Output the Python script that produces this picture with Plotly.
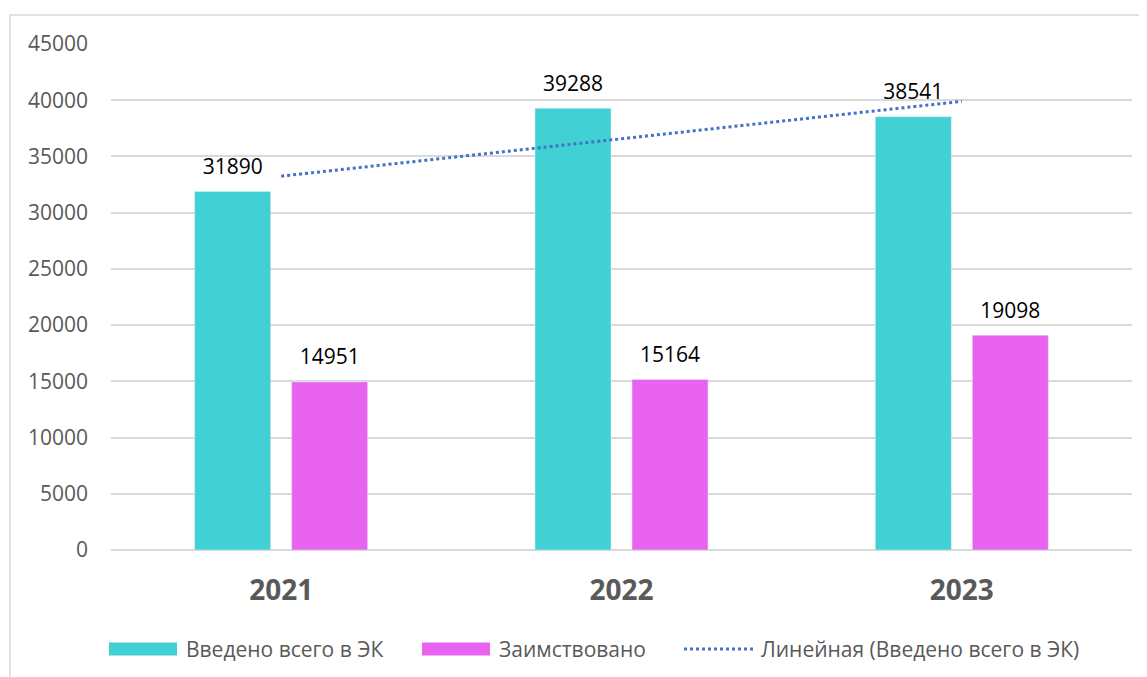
import numpy as np
import plotly.graph_objects as go

years = ["2021", "2022", "2023"]
vvedeno = [31890, 39288, 38541]
zaimstv = [14951, 15164, 19098]
y_ticks = [0, 5000, 10000, 15000, 20000, 25000, 30000, 35000, 40000, 45000]
names = ["Введено всего в ЭК", "Заимствовано", "Линейная (Введено всего в ЭК)"]

# linear trend of first series (Excel-style linear trendline)
xi = np.arange(len(years))
k, b = np.polyfit(xi, vvedeno, 1)
trend = (k * xi + b).tolist()

CYAN = "#41D0D4"
MAGENTA = "#E863F0"
BLUE = "#4472C4"
GRAY = "#595959"
FONT = "Open Sans"

W, H = 1139, 669
ML, MR, MT, MB = 103, 15, 36, 127
PW, PH = W - ML - MR, H - MT - MB


def px(x):  # figure pixel -> paper x
    return (x - ML) / PW


def py(y):  # figure pixel -> paper y
    return (H - MB - y) / PH


def label(v):
    return "<span style='font-size:21px'>%d</span><br>\u00a0" % v


fig = go.Figure()
fig.add_trace(go.Bar(
    x=years, y=vvedeno, name=names[0], marker_color=CYAN,
    text=[label(v) for v in vvedeno], textposition="outside", constraintext="none",
    textfont=dict(size=9, color="#000000", family=FONT), cliponaxis=False,
))
fig.add_trace(go.Bar(
    x=years, y=zaimstv, name=names[1], marker_color=MAGENTA,
    text=[label(v) for v in zaimstv], textposition="outside", constraintext="none",
    textfont=dict(size=9, color="#000000", family=FONT), cliponaxis=False,
))
fig.add_trace(go.Scatter(
    x=years, y=trend, mode="lines", name=names[2],
    line=dict(color=BLUE, width=3, dash="dot"), hoverinfo="skip",
))

# custom legend (wide swatches like the original)
ly = 641
shapes = [
    dict(type="rect", xref="paper", yref="paper", x0=px(101), x1=px(169),
         y0=py(ly - 6.5), y1=py(ly + 6.5), fillcolor=CYAN, line=dict(width=0)),
    dict(type="rect", xref="paper", yref="paper", x0=px(414), x1=px(482),
         y0=py(ly - 6.5), y1=py(ly + 6.5), fillcolor=MAGENTA, line=dict(width=0)),
    dict(type="line", xref="paper", yref="paper", x0=px(676), x1=px(745),
         y0=py(ly), y1=py(ly), line=dict(color=BLUE, width=3, dash="dot")),
    dict(type="rect", xref="paper", yref="paper", x0=px(2), x1=px(1200),
         y0=py(800), y1=py(7), line=dict(color="#D9D9D9", width=1.5),
         fillcolor="rgba(0,0,0,0)", layer="below"),
]
annotations = [
    dict(xref="paper", yref="paper", x=px(tx), y=py(ly), text=t, showarrow=False,
         xanchor="left", yanchor="middle", font=dict(size=21, color=GRAY, family=FONT))
    for tx, t in zip([176, 489, 751], names)
]

fig.update_layout(
    width=W, height=H,
    margin=dict(l=ML, r=MR, t=MT, b=MB),
    paper_bgcolor="white", plot_bgcolor="white",
    barmode="group", bargap=0.43, bargroupgap=0.2165,
    font=dict(family=FONT, color=GRAY),
    showlegend=False,
    xaxis=dict(type="category", showgrid=False, showline=False, ticks="",
               tickfont=dict(size=28, color=GRAY, family=FONT, weight="bold"),
               ticklabelstandoff=21),
    yaxis=dict(range=[0, 45000], tickvals=y_ticks, ticktext=[str(v) for v in y_ticks],
               showgrid=True, gridcolor="#D9D9D9",
               gridwidth=1.5, zeroline=True, zerolinecolor="#D9D9D9", zerolinewidth=1.5,
               showline=False, ticks="", tickfont=dict(size=21, color=GRAY, family=FONT),
               ticklabelstandoff=22),
    shapes=shapes,
    annotations=annotations,
)

fig.write_html("out.html")
